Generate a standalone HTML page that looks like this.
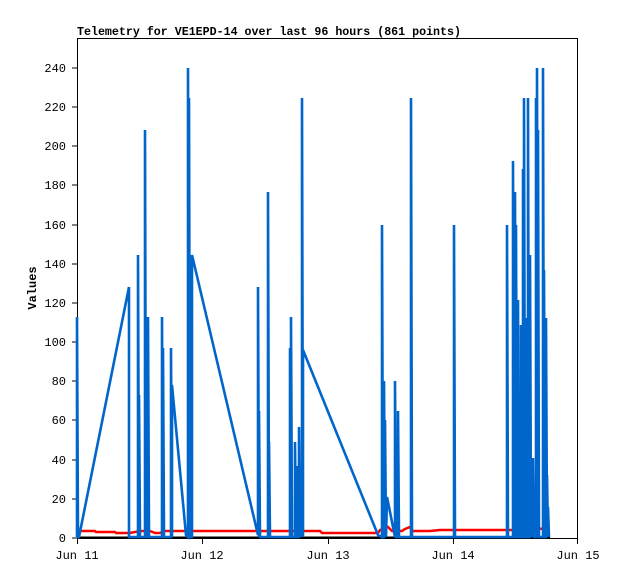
<!DOCTYPE html>
<html><head><style>body{margin:0;background:#fff}</style></head><body>
<svg width="618" height="579" xmlns="http://www.w3.org/2000/svg" font-family="Liberation Mono, monospace" font-size="12">
<rect width="618" height="579" fill="#fff"/>
<text x="77" y="35" font-weight="bold" font-size="12" textLength="384" lengthAdjust="spacingAndGlyphs">Telemetry for VE1EPD-14 over last 96 hours (861 points)</text>
<rect x="77.5" y="38.5" width="500" height="500" fill="none" stroke="#000" stroke-width="1"/>
<g stroke="#000">
<line x1="72" y1="538" x2="77" y2="538"/><line x1="72" y1="499" x2="77" y2="499"/><line x1="72" y1="460" x2="77" y2="460"/><line x1="72" y1="420" x2="77" y2="420"/><line x1="72" y1="381" x2="77" y2="381"/><line x1="72" y1="342" x2="77" y2="342"/><line x1="72" y1="303" x2="77" y2="303"/><line x1="72" y1="264" x2="77" y2="264"/><line x1="72" y1="225" x2="77" y2="225"/><line x1="72" y1="185" x2="77" y2="185"/><line x1="72" y1="146" x2="77" y2="146"/><line x1="72" y1="107" x2="77" y2="107"/><line x1="72" y1="68" x2="77" y2="68"/>
<line x1="77.5" y1="538" x2="77.5" y2="544"/><line x1="202.5" y1="538" x2="202.5" y2="544"/><line x1="328.5" y1="538" x2="328.5" y2="544"/><line x1="453.5" y1="538" x2="453.5" y2="544"/><line x1="577.5" y1="538" x2="577.5" y2="544"/>
</g>
<g text-anchor="end">
<text x="66" y="542">0</text><text x="66" y="503">20</text><text x="66" y="464">40</text><text x="66" y="424">60</text><text x="66" y="385">80</text><text x="66" y="346">100</text><text x="66" y="307">120</text><text x="66" y="268">140</text><text x="66" y="229">160</text><text x="66" y="189">180</text><text x="66" y="150">200</text><text x="66" y="111">220</text><text x="66" y="72">240</text>
</g>
<g text-anchor="middle">
<text x="77" y="559">Jun 11</text><text x="202" y="559">Jun 12</text><text x="328" y="559">Jun 13</text><text x="453" y="559">Jun 14</text><text x="578" y="559">Jun 15</text>
</g>
<text x="36" y="288" font-weight="bold" text-anchor="middle" transform="rotate(-90 36 288)">Values</text>
<line x1="77" y1="537.5" x2="550" y2="537.5" stroke="#000" stroke-width="2"/>
<polyline fill="none" stroke="#f00" stroke-width="2.5" points="78,531 95,531 96,532 115,532 116,533 130,533 140,531 150,531 155,533 160,533 165,531 240,531 260,531 280,531 320,531 322,533 378,533 380,530 388,527 392,531 402,531 405,529 410,527 412,531 430,531 440,530 505,530 515,530 518,529 522,528 530,528 545,529"/>
<polyline fill="none" stroke="#0066cc" stroke-width="2.6" points="77,537 77,317 78,537 79,537 129,287 129,537 138,537 138,255 139,537 139,395 140,537 145,537 145,130 146,537 148,537 148,317 149,537 162,537 162,317 163,537 163,348 164,537 171,537 171,348 172,537 172,385 186,535 188,537 188,68 189,537 189,98 190,537 192,537 192,255 258,535 258,287 259,537 259,411 260,537 268,537 268,192 269,537 269,442 270,537 290,537 290,348 291,537 291,317 292,537 295,537 295,442 296,537 297,537 297,466 298,537 299,537 299,427 300,537 301,513 302,537 302,98 303,537 303,350 378,535 382,537 382,225 383,537 384,537 384,381 385,537 385,420 386,537 387,497 395,537 395,381 396,537 398,537 398,411 399,537 411,537 411,98 412,537 454,537 454,225 455,537 507,537 507,225 508,537 513,537 513,161 514,537 515,537 515,192 516,537 516,225 517,537 518,537 518,300 519,537 519,390 520,537 521,537 521,325 522,537 523,537 523,169 524,537 524,98 525,537 526,537 526,318 527,537 528,537 528,98 529,537 530,537 530,255 531,537 531,498 533,537 533,458 534,537 536,537 536,98 537,537 537,68 538,537 538,130 539,537 543,537 543,68 544,537 544,270 545,537 546,537 546,318 547,537 547,475 548,537 548,507 549,537"/>
</svg>
</body></html>
